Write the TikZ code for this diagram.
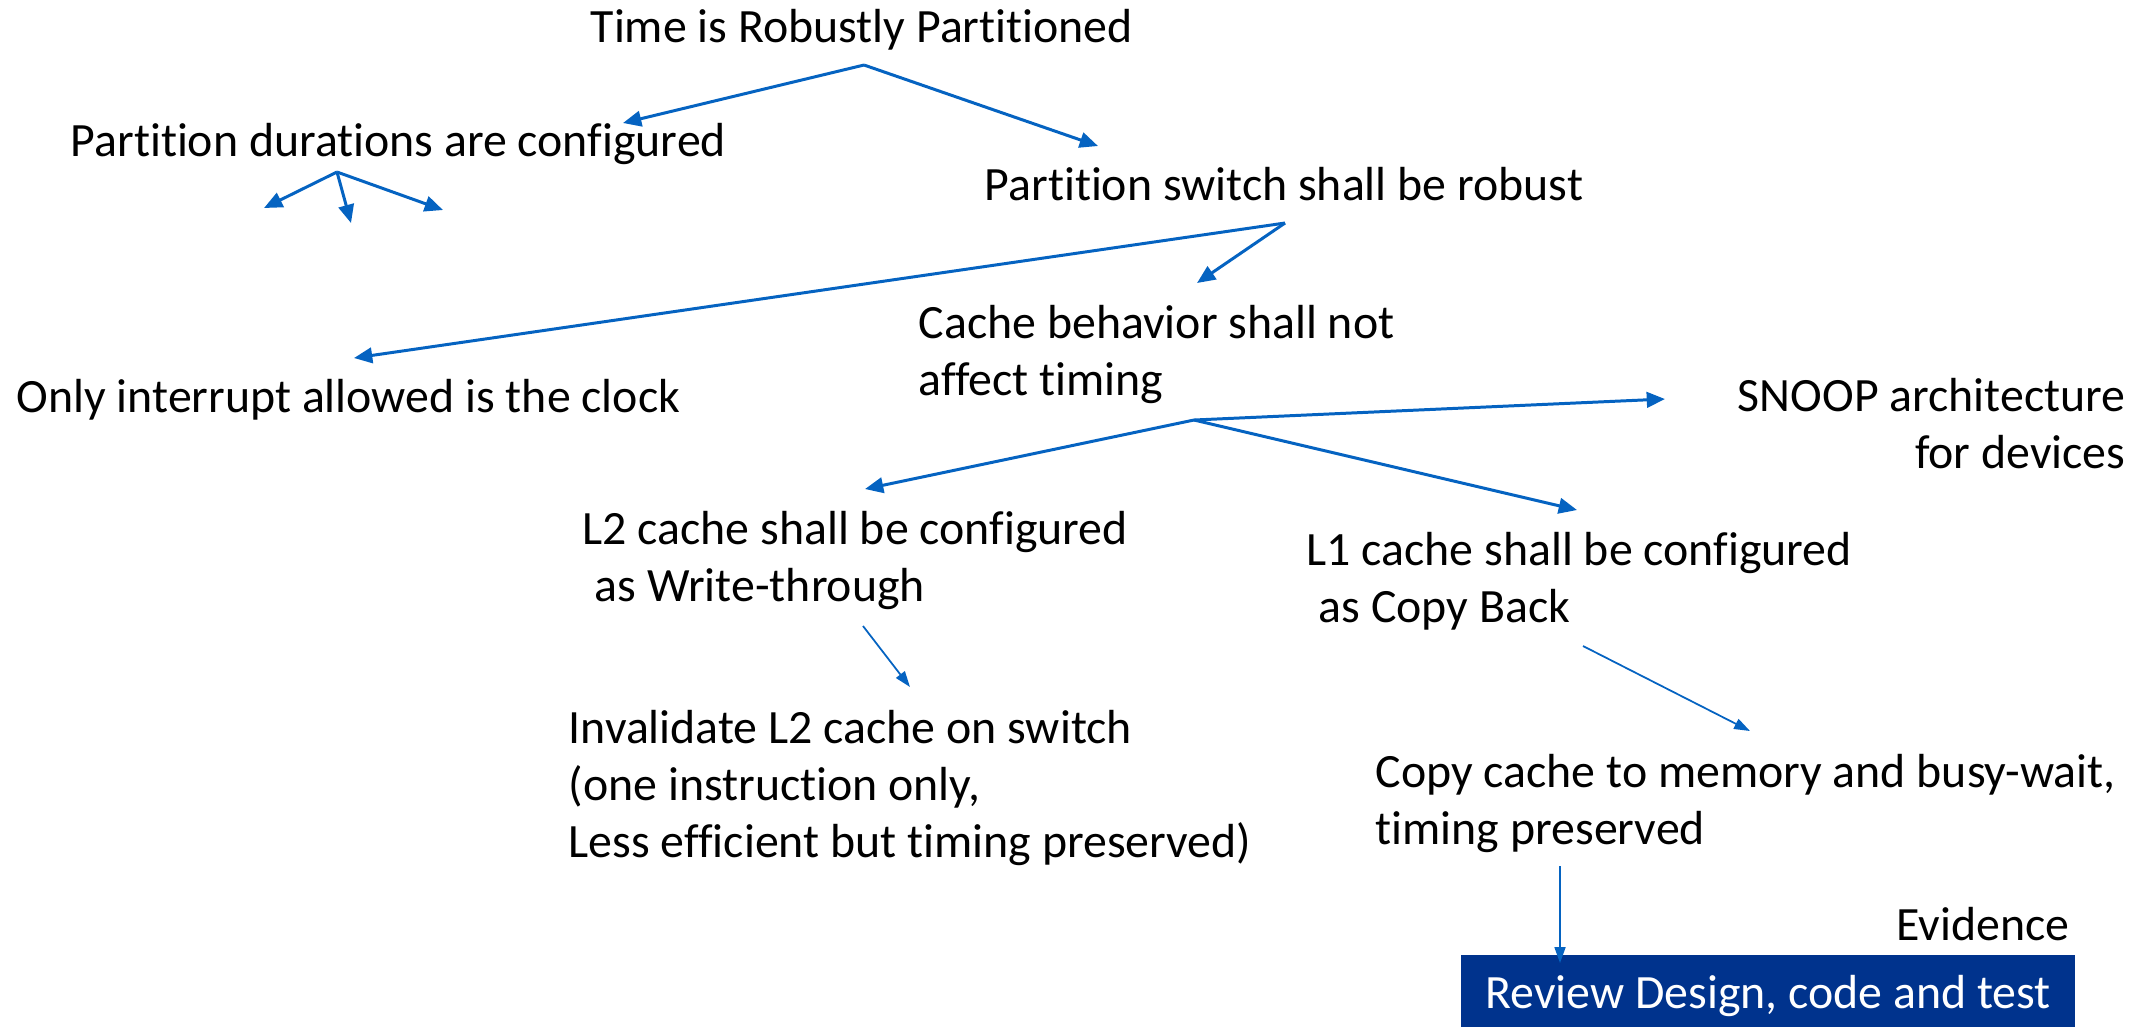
\documentclass[tikz,border=0pt]{standalone}
\usepackage{fontspec}
\setmainfont{Carlito}[Ligatures=NoCommon]
\usetikzlibrary{arrows.meta}
\definecolor{linkblue}{RGB}{5,99,193}
\definecolor{boxblue}{RGB}{0,51,141}

\begin{document}
\begin{tikzpicture}[x=0.01cm,y=-0.01cm,
    every node/.style={inner sep=0pt,font=\fontsize{13.6}{16.2}\selectfont},
    goal/.style={anchor=base west,align=left},
    link/.style={draw=linkblue,line width=0.85pt,-{Triangle[length=5.2pt,width=4.4pt]}},
    thinlink/.style={draw=linkblue,line width=0.5pt,-{Triangle[length=4.5pt,width=3.1pt]}}]
        \useasboundingbox (0,0) rectangle (2152,1026);

        % Define the goals (base = baseline of the last line)
        \node[goal] (time) at (590,42) {Time is Robustly Partitioned};
        \node[goal] (durations) at (70,156) {Partition durations are configured};
        \node[goal] (switch) at (984,200) {Partition switch shall be robust};
        \node[goal] (cache) at (918,395) {Cache behavior shall not\\affect timing};
        \node[goal] (clock) at (16,412) {Only interrupt allowed is the clock};
        \node[anchor=base east,align=right] (snoop) at (2126,468) {SNOOP architecture\\for devices};
        \node[goal] (ltwo) at (582,601) {L2 cache shall be configured\\\hspace*{0.25em}as Write-through};
        \node[goal] (lone) at (1306,622) {L1 cache shall be configured\\\hspace*{0.25em}as Copy Back};
        \node[goal] (invalidate) at (568,857) {Invalidate L2 cache on switch\\(one instruction only,\\Less efficient but timing preserved)};
        \node[goal] (copy) at (1375,844) {Copy cache to memory and busy-wait,\\timing preserved};
        \node[anchor=base east] (evidence) at (2070,940) {Evidence};
        \node[fill=boxblue,text=white,anchor=base,minimum width=6.13cm,
              text height=0.53cm,text depth=0.3cm] (review) at (1768,1008) {Review Design, code and test};

        % Define the fork points and arrow tips
        \coordinate (time-fork) at (864,65);
        \coordinate (time-a) at (623,123);
        \coordinate (time-b) at (1098,146);
        \coordinate (dur-fork) at (337,172);
        \coordinate (dur-a) at (264,208);
        \coordinate (dur-b) at (351,223);
        \coordinate (dur-c) at (443,210);
        \coordinate (switch-fork) at (1285,223);
        \coordinate (switch-a) at (354,358);
        \coordinate (switch-b) at (1197,283);
        \coordinate (cache-fork) at (1194,420);
        \coordinate (cache-a) at (865,489);
        \coordinate (cache-b) at (1577,510);
        \coordinate (cache-c) at (1665,399);
        \coordinate (ltwo-foot) at (863,626);
        \coordinate (ltwo-tip) at (910,687);
        \coordinate (lone-foot) at (1583,646);
        \coordinate (lone-tip) at (1750,731);
        \coordinate (copy-foot) at (1560,866);
        \coordinate (copy-tip) at (1560,963);

        % Draw the arrows
        \foreach \tip in {time-a, time-b}
        \draw[link] (time-fork) -- (\tip);
        \foreach \tip in {dur-a, dur-b, dur-c}
        \draw[link] (dur-fork) -- (\tip);
        \foreach \tip in {switch-a, switch-b}
        \draw[link] (switch-fork) -- (\tip);
        \foreach \tip in {cache-a, cache-b, cache-c}
        \draw[link] (cache-fork) -- (\tip);

        \draw[thinlink] (ltwo-foot) -- (ltwo-tip);
        \draw[thinlink] (lone-foot) -- (lone-tip);
        \draw[thinlink] (copy-foot) -- (copy-tip);
     \end{tikzpicture}
\end{document}
